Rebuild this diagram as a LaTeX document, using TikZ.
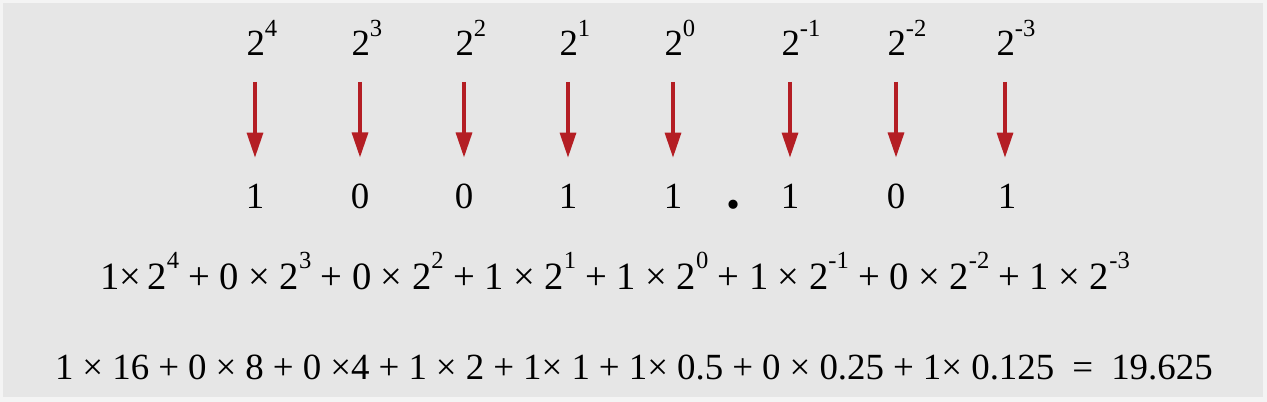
\documentclass[tikz,border=0pt]{standalone}
\usepackage{fontspec}
\setmainfont{Liberation Serif}
\usetikzlibrary{arrows.meta}
\definecolor{bggray}{RGB}{230,230,230}
\definecolor{edgegray}{RGB}{244,244,244}
\definecolor{arrowred}{RGB}{180,30,36}
\newcommand{\supnum}[1]{\raisebox{0.52em}{\fontsize{14}{14}\selectfont #1}}

\begin{document}
\begin{tikzpicture}[
		x=0.02cm, y=-0.02cm,
		every node/.style = {
			inner sep=0cm, outer sep=0cm,
			font=\fontsize{21}{25}\selectfont
		},
		power/.style = {anchor=base west, xshift=-0.17cm},
		digit/.style = {anchor=base},
		weight/.style = {
			draw=arrowred, line width=1.8pt,
			-{Triangle[length=0.5cm, width=0.32cm]},
			shorten <=0.52cm, shorten >=0.52cm
		}
		]
		\fill[edgegray] (0, 0) rectangle (1267, 402);
		\fill[bggray] (3, 3) rectangle (1263, 397);
		% place values
		\node [power] (p4) at (255, 56) {2\supnum{4}};
		\node [power] (p3) at (360, 56) {2\supnum{3}};
		\node [power] (p2) at (464, 56) {2\supnum{2}};
		\node [power] (p1) at (568, 56) {2\supnum{1}};
		\node [power] (p0) at (673, 56) {2\supnum{0}};
		\node [power] (pm1) at (790, 56) {2\supnum{-1}};
		\node [power] (pm2) at (896, 56) {2\supnum{-2}};
		\node [power] (pm3) at (1005, 56) {2\supnum{-3}};
		% binary digits
		\node [digit] (b4) at (255, 208) {1};
		\node [digit] (b3) at (360, 208) {0};
		\node [digit] (b2) at (464, 208) {0};
		\node [digit] (b1) at (568, 208) {1};
		\node [digit] (b0) at (673, 208) {1};
		\node [digit, font=\fontsize{32}{32}\selectfont\bfseries] (point) at (734, 208) {.};
		\node [digit] (bm1) at (790, 208) {1};
		\node [digit] (bm2) at (896, 208) {0};
		\node [digit] (bm3) at (1007, 208) {1};
		\draw[weight] (b4.north |- p4.south) -- (b4.north);
		\draw[weight] (b3.north |- p3.south) -- (b3.north);
		\draw[weight] (b2.north |- p2.south) -- (b2.north);
		\draw[weight] (b1.north |- p1.south) -- (b1.north);
		\draw[weight] (b0.north |- p0.south) -- (b0.north);
		\draw[weight] (bm1.north |- pm1.south) -- (bm1.north);
		\draw[weight] (bm2.north |- pm2.south) -- (bm2.north);
		\draw[weight] ([xshift=-0.04cm]bm3.north |- pm3.south) -- ([xshift=-0.04cm]bm3.north);
		% expansion and sum
		\node [anchor=base west, font=\fontsize{22}{26}\selectfont] (powers) at (100, 289)
			{\makebox[20.6cm][s]{1×\,2\supnum{4} + 0 × 2\supnum{3} + 0 × 2\supnum{2} + 1 × 2\supnum{1} + 1 × 2\supnum{0} + 1 × 2\supnum{-1} + 0 × 2\supnum{-2} + 1 × 2\supnum{-3}}};
		\node [anchor=base west] (total) at (55, 379)
			{\makebox[23.16cm][s]{1 × 16 + 0 × 8 + 0 ×4 + 1 × 2 + 1× 1 + 1× 0.5 + 0 × 0.25 + 1× 0.125 \ = \ 19.625}};
\end{tikzpicture}
\end{document}
